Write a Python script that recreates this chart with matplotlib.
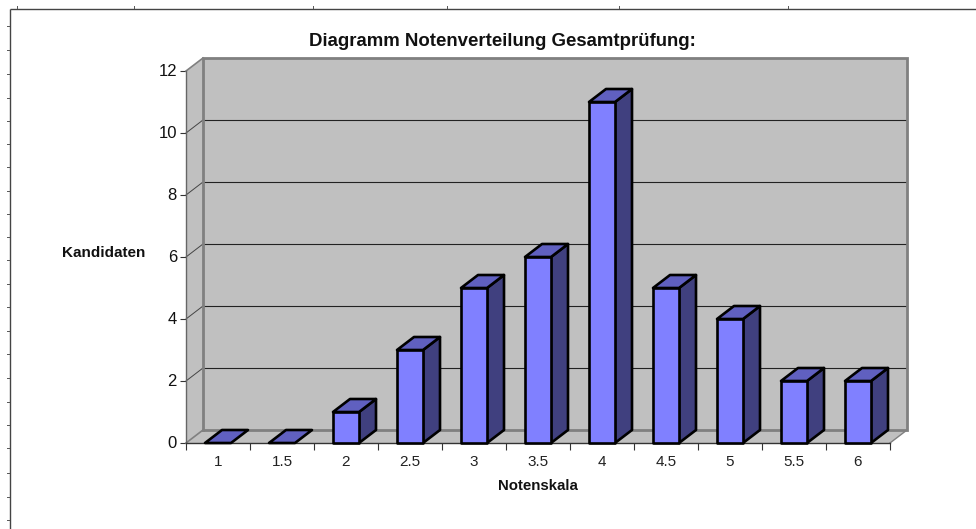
import matplotlib
matplotlib.use("Agg")
import matplotlib.pyplot as plt
from matplotlib.patches import Polygon
from matplotlib.transforms import ScaledTranslation

plt.rcParams['font.family'] = ['Liberation Sans', 'DejaVu Sans']

categories = ['1', '1.5', '2', '2.5', '3', '3.5', '4', '4.5', '5', '5.5', '6']
counts = [0, 0, 1, 3, 5, 6, 11, 5, 4, 2, 2]
y_ticks = [0, 2, 4, 6, 8, 10, 12]
title = 'Diagramm Notenverteilung Gesamtprüfung:'
x_label = 'Notenskala'
y_label = 'Kandidaten'
page_top_ticks = [16, 133, 312, 446, 618, 787]
page_left_ticks = [25, 49, 73, 97, 120, 143, 166, 190, 213, 236, 259, 283, 306,
                   330, 353, 377, 401, 424, 447, 472, 496, 519]

W, H = 976, 529
fig = plt.figure(figsize=(W / 100, H / 100), dpi=100, facecolor='white')

# page frame fragment in pixel coordinates
pg = fig.add_axes([0, 0, 1, 1], zorder=0)
pg.set_xlim(0, W)
pg.set_ylim(H, 0)
pg.axis('off')
pg.plot([9.5, 9.5], [H, 8.5], color='#444444', lw=1.0, solid_capstyle='butt')
pg.plot([9.5, W], [8.5, 8.5], color='#444444', lw=1.0, solid_capstyle='butt')
for x in page_top_ticks:
    pg.plot([x + .5, x + .5], [6, 8], color='#555555', lw=0.7)
for y in page_left_ticks:
    pg.plot([7, 9], [y + .5, y + .5], color='#555555', lw=0.7)

# chart axes: front plane of the pseudo-3D box
L, R, T, B = 186, 890, 71, 443
ax = fig.add_axes([L / W, 1 - B / H, (R - L) / W, (B - T) / H], zorder=1)
n = len(categories)
ax.set_xlim(0, n)
ax.set_ylim(0, 12)
ax.patch.set_alpha(0)
for s in ax.spines.values():
    s.set_visible(False)

dx = 17 / 64          # depth in category units
dy = 13 / 31          # depth in value units
bw = 26 / 64          # bar width

WALL = '#c0c0c0'
EDGE = '#808080'
# walls
ax.add_patch(Polygon([(dx, dy), (n + dx, dy), (n + dx, 12 + dy), (dx, 12 + dy)],
                     fc=WALL, ec='none', clip_on=False, zorder=1))
ax.add_patch(Polygon([(0, 0), (dx, dy), (dx, 12 + dy), (0, 12)],
                     fc=WALL, ec='none', clip_on=False, zorder=1))
ax.add_patch(Polygon([(0, 0), (n, 0), (n + dx, dy), (dx, dy)],
                     fc=WALL, ec='none', clip_on=False, zorder=1))
# gridlines
for v in y_ticks[1:-1]:
    ax.plot([dx, n + dx], [v + dy, v + dy], color='#222222', lw=0.8, clip_on=False, zorder=2)
    ax.plot([0, dx], [v, v + dy], color='#444444', lw=0.7, clip_on=False, zorder=2)
# wall borders
ax.plot([dx, n + dx, n + dx, dx, dx], [dy, dy, 12 + dy, 12 + dy, dy], color=EDGE, lw=2.0,
        clip_on=False, zorder=3, solid_joinstyle='miter')
ax.plot([dx, 0], [12 + dy, 12], color=EDGE, lw=1.2, clip_on=False, zorder=3)
ax.plot([dx, 0], [dy, 0], color=EDGE, lw=1.2, clip_on=False, zorder=3)
ax.plot([n + dx, n], [dy, 0], color=EDGE, lw=1.0, clip_on=False, zorder=3)
ax.plot([0, 0], [0, 12], color='#666666', lw=1.0, clip_on=False, zorder=3)
ax.plot([0, n], [0, 0], color='#333333', lw=1.0, clip_on=False, zorder=3)

# bars
for i, v in enumerate(counts):
    x0 = i + 0.5 - bw / 2
    x1 = x0 + bw
    kw = dict(ec='black', lw=1.9, clip_on=False, zorder=4, joinstyle='round')
    if v > 0:
        ax.add_patch(Polygon([(x1, 0), (x1 + dx, dy), (x1 + dx, v + dy), (x1, v)], fc='#40407f', **kw))
    ax.add_patch(Polygon([(x0, v), (x1, v), (x1 + dx, v + dy), (x0 + dx, v + dy)], fc='#6060c0', **kw))
    if v > 0:
        ax.add_patch(Polygon([(x0, 0), (x1, 0), (x1, v), (x0, v)], fc='#8080ff', **kw))

# ticks and labels
ax.set_yticks(y_ticks)
ax.set_yticklabels([str(v) for v in y_ticks], fontsize=12, color='#111111')
ax.tick_params(axis='y', length=4, width=0.8, color='#333333', pad=2.5)
up = ScaledTranslation(0, 1.5 / 100, fig.dpi_scale_trans)
for lab in ax.get_yticklabels():
    lab.set_transform(lab.get_transform() + up)
ax.set_xticks(range(n + 1))
ax.set_xticklabels([])
ax.tick_params(axis='x', which='major', length=5, width=0.8, color='#333333')
ax.set_xticks([i + 0.5 for i in range(n)], minor=True)
ax.set_xticklabels(categories, minor=True, fontsize=11, color='#222222')
ax.tick_params(axis='x', which='minor', length=0, pad=8.5)

fig.text(502.5 / W, 1 - 41 / H, title, ha='center', va='center', fontsize=13.4, fontweight='bold', color='#111111')
fig.text(104 / W, 1 - 253 / H, y_label, ha='center', va='center', fontsize=11, fontweight='bold', color='#111111')
fig.text(538 / W, 1 - 485.5 / H, x_label, ha='center', va='center', fontsize=10.8, fontweight='bold', color='#111111')

fig.savefig('out.png', dpi=100, facecolor='white')
